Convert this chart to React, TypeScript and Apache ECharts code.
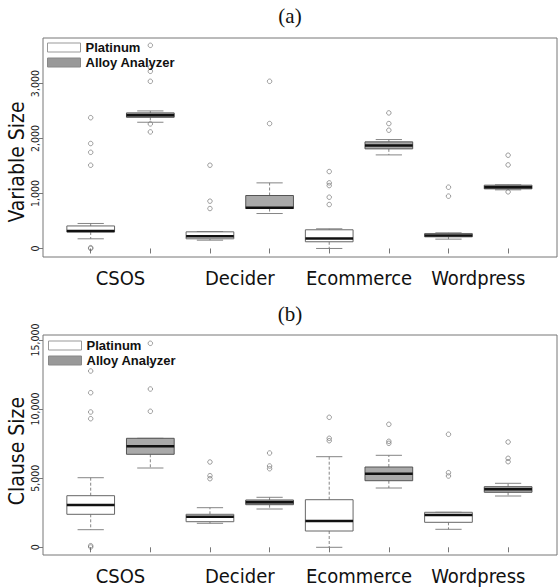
import React, { useEffect, useRef } from "react";
import * as echarts from "echarts";

const groups = ["CSOS", "Decider", "Ecommerce", "Wordpress"];
const methods = ["Platinum", "Alloy Analyzer"];

// [min, Q1, median, Q3, max] per group
const varPlatinum = [
  [176, 300, 320, 410, 455],
  [151, 176, 224, 303, 309],
  [0, 122, 182, 340, 358],
  [170, 212, 236, 273, 285],
];
const varAlloy = [
  [2297, 2387, 2424, 2467, 2503],
  [636, 727, 739, 964, 1194],
  [1703, 1813, 1873, 1940, 1982],
  [1067, 1085, 1115, 1152, 1158],
];
const varPlatinumOutliers = [
  [2380, 1910, 1750, 1515, 15, 0],
  [1515, 861, 727],
  [1400, 1194, 1145, 933, 800],
  [1115, 952],
];
const varAlloyOutliers = [
  [3697, 3297, 3224, 3042, 2267, 2121],
  [3042, 2273],
  [2467, 2273, 2152],
  [1697, 1521, 1030],
];

const clausePlatinum = [
  [1274, 2388, 3061, 3734, 5036],
  [1737, 1852, 2214, 2388, 2866],
  [0, 1179, 1903, 3444, 6556],
  [1302, 1809, 2337, 2533, 2533],
];
const clauseAlloy = [
  [5738, 6729, 7308, 7887, 7887],
  [2771, 3083, 3256, 3423, 3618],
  [4291, 4819, 5326, 5810, 6657],
  [3712, 3980, 4197, 4385, 4631],
];
const clausePlatinumOutliers = [
  [12757, 11187, 9790, 9305, 116, 22],
  [6172, 5181, 4964],
  [9407, 7887, 7713],
  [8177, 5398, 5159],
];
const clauseAlloyOutliers = [
  [14761, 13213, 11454, 9841],
  [6823, 5883, 5688],
  [8900, 7670, 7525],
  [7619, 6440, 6194],
];

const varTicks = [0, 1000, 2000, 3000];
const clauseTicks = [0, 5000, 10000, 15000];
const boxTicks = [1, 2, 3, 4, 5, 6, 7, 8];
const groupLabelPos = [1.5, 3.5, 5.5, 7.5];

const COND = '"DejaVu Sans Condensed", "DejaVu Sans", sans-serif';
const fills = ["#ffffff", "#a9a9a9"];
const strokes = ["#666666", "#555555"];

const pos = (g: number, m: number) => g * 2 + m + 1;

const makeRender = (fill: string, stroke: string) => (params: any, api: any) => {
  const x = api.value(0);
  const c = (v: number) => api.coord([x, v]);
  const [cx, yMin] = c(api.value(1));
  const yQ1 = c(api.value(2))[1];
  const yMed = c(api.value(3))[1];
  const yQ3 = c(api.value(4))[1];
  const yMax = c(api.value(5))[1];
  const bw = api.size([0.8, 0])[0];
  const cw = api.size([0.44, 0])[0];
  const wStyle = { stroke: "#777", lineWidth: 0.9, lineDash: [3, 2] };
  const capStyle = { stroke: "#777", lineWidth: 0.9 };
  return {
    type: "group",
    children: [
      { type: "line", shape: { x1: cx, y1: yQ3, x2: cx, y2: yMax }, style: wStyle },
      { type: "line", shape: { x1: cx, y1: yQ1, x2: cx, y2: yMin }, style: wStyle },
      { type: "line", shape: { x1: cx - cw / 2, y1: yMax, x2: cx + cw / 2, y2: yMax }, style: capStyle },
      { type: "line", shape: { x1: cx - cw / 2, y1: yMin, x2: cx + cw / 2, y2: yMin }, style: capStyle },
      {
        type: "rect",
        shape: { x: cx - bw / 2, y: yQ3, width: bw, height: yQ1 - yQ3 },
        style: { fill, stroke, lineWidth: 1 },
      },
      {
        type: "line",
        shape: { x1: cx - bw / 2, y1: yMed, x2: cx + bw / 2, y2: yMed },
        style: { stroke: "#111", lineWidth: 2.5 },
      },
    ],
  };
};

const fmt = (v: number) => Math.round(v).toLocaleString("en-US");

export default function App() {
  const ref = useRef<HTMLDivElement>(null);
  useEffect(() => {
    if (!ref.current) return;
    const chart = echarts.init(ref.current, null, { renderer: "svg" });

    const plots = [
      { stats: [varPlatinum, varAlloy], outs: [varPlatinumOutliers, varAlloyOutliers], ticks: varTicks, min: -155, max: 3830 },
      { stats: [clausePlatinum, clauseAlloy], outs: [clausePlatinumOutliers, clauseAlloyOutliers], ticks: clauseTicks, min: -557, max: 15362 },
    ];

    const series: any[] = [];
    plots.forEach((p, gi) => {
      methods.forEach((name, mi) => {
        series.push({
          type: "custom",
          name,
          xAxisIndex: gi,
          yAxisIndex: gi,
          renderItem: makeRender(fills[mi], strokes[mi]),
          encode: { x: 0, y: [1, 2, 3, 4, 5] },
          data: p.stats[mi].map((d, g) => [pos(g, mi), ...d]),
          z: 2,
        });
        const pts: number[][] = [];
        p.outs[mi].forEach((arr, g) => arr.forEach((v) => pts.push([pos(g, mi), v])));
        series.push({
          type: "scatter",
          name,
          xAxisIndex: gi,
          yAxisIndex: gi,
          symbol: "circle",
          symbolSize: 4.5,
          clip: false,
          itemStyle: { color: "rgba(255,255,255,0)", borderColor: "#666", borderWidth: 0.8 },
          data: pts,
          z: 3,
        });
      });
    });

    const legendData = [
      { name: "Platinum", icon: "rect", itemStyle: { color: "#ffffff", borderColor: "#999", borderWidth: 1 } },
      { name: "Alloy Analyzer", icon: "rect", itemStyle: { color: "#999999", borderColor: "#888", borderWidth: 1 } },
    ];
    const legendBase = {
      orient: "vertical",
      itemWidth: 33,
      itemHeight: 9,
      itemGap: 2,
      padding: 0,
      selectedMode: false,
      textStyle: {
        fontFamily: '"Liberation Sans Narrow", "Liberation Sans", Arial, sans-serif',
        fontWeight: "bold",
        fontSize: 13,
        lineHeight: 13,
        color: "#111",
      },
      data: legendData,
    };

    const titleStyle = { fontFamily: "Liberation Serif, serif", fontWeight: "normal", fontSize: 21, color: "#111" };

    const option: any = {
      animation: false,
      backgroundColor: "#fff",
      title: [
        { text: "(a)", left: 290, top: 5, padding: 0, textAlign: "center", textStyle: titleStyle },
        { text: "(b)", left: 290, top: 303, padding: 0, textAlign: "center", textStyle: titleStyle },
      ],
      legend: [
        { ...legendBase, left: 47, top: 41 },
        { ...legendBase, left: 48, top: 339 },
      ],
      grid: [
        { left: 43, right: 3, top: 38, height: 219, show: true, borderColor: "#777", borderWidth: 1, backgroundColor: "transparent" },
        { left: 43, right: 3, top: 335, height: 220, show: true, borderColor: "#777", borderWidth: 1, backgroundColor: "transparent" },
      ],
      xAxis: [0, 1].map((gi) => ({
        type: "value",
        gridIndex: gi,
        min: 0.2,
        max: 8.82,
        axisLine: { show: false },
        splitLine: { show: false },
        axisTick: { show: true, customValues: boxTicks, length: 5, lineStyle: { color: "#777" } },
        axisLabel: {
          customValues: groupLabelPos,
          formatter: (v: number) => groups[Math.round((v - 1.5) / 2)] ?? "",
          fontFamily: COND,
          fontSize: 20,
          color: "#111",
          margin: 11,
        },
      })),
      yAxis: plots.map((p, gi) => ({
        type: "value",
        gridIndex: gi,
        min: p.min,
        max: p.max,
        axisLine: { show: false },
        splitLine: { show: false },
        axisTick: { show: true, customValues: p.ticks, length: 4, lineStyle: { color: "#777" } },
        axisLabel: {
          customValues: p.ticks,
          formatter: fmt,
          rotate: 90,
          fontFamily: COND,
          fontSize: 10.5,
          color: "#222",
          margin: 3,
        },
      })),
      graphic: [
        { type: "text", x: 17, y: 162, rotation: Math.PI / 2, style: { text: "Variable Size", fontFamily: COND, fontSize: 21, fill: "#111", textAlign: "center", textVerticalAlign: "middle" } },
        { type: "text", x: 17, y: 451, rotation: Math.PI / 2, style: { text: "Clause Size", fontFamily: COND, fontSize: 21, fill: "#111", textAlign: "center", textVerticalAlign: "middle" } },
      ],
      series,
    };
    chart.setOption(option);
    return () => chart.dispose();
  }, []);
  return <div ref={ref} style={{ position: "absolute", left: 0, top: 0, width: 560, height: 588 }} />;
}
